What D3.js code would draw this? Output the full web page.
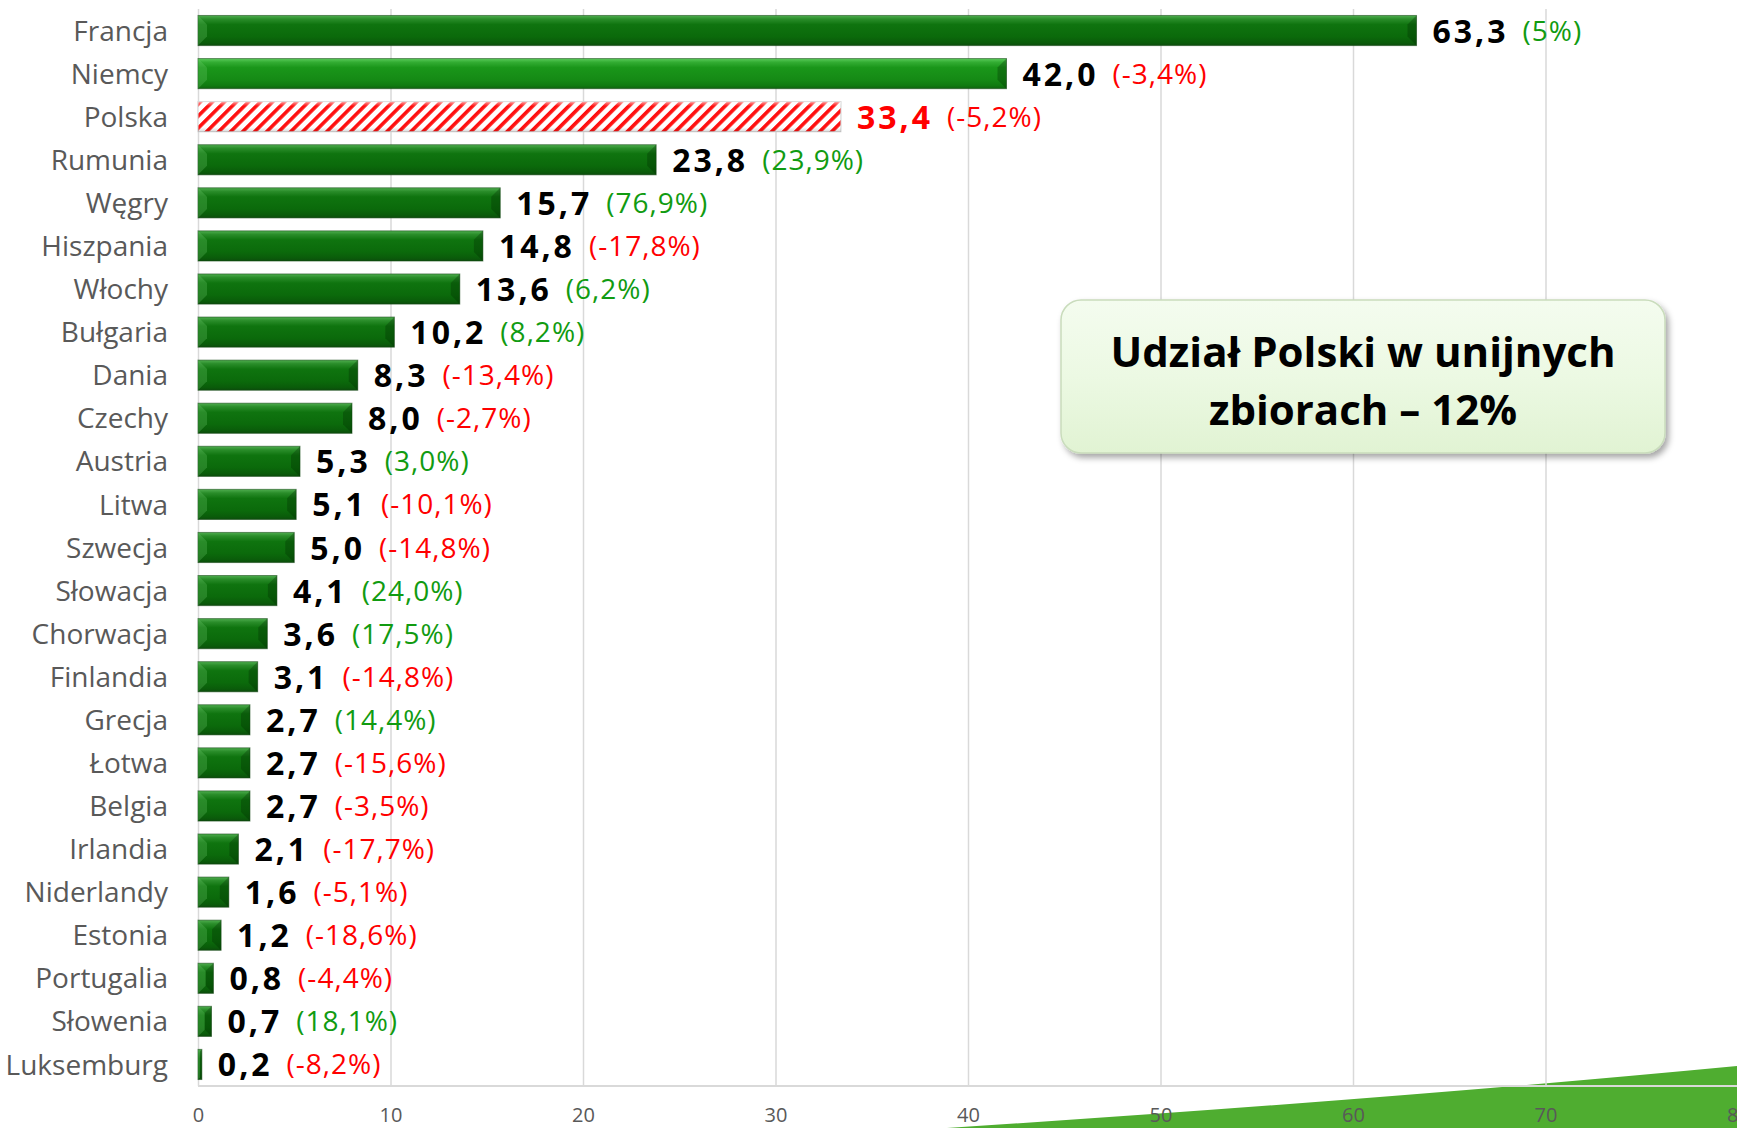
<!DOCTYPE html>
<html>
<head>
<meta charset="utf-8">
<script src="https://cdn.jsdelivr.net/npm/d3@7"></script>
<style>
  body { margin: 0; background: #fff; }
  svg { display: block; }
</style>
</head>
<body>
<svg id="chart"></svg>
<script>
var width = 1737;
var height = 1128;

// Data

var countries = ['Francja', 'Niemcy', 'Polska', 'Rumunia', 'Węgry', 'Hiszpania', 'Włochy', 'Bułgaria',
                 'Dania', 'Czechy', 'Austria', 'Litwa', 'Szwecja', 'Słowacja', 'Chorwacja', 'Finlandia',
                 'Grecja', 'Łotwa', 'Belgia', 'Irlandia', 'Niderlandy', 'Estonia', 'Portugalia', 'Słowenia', 'Luksemburg'];

var harvest = [63.3, 42.0, 33.4, 23.8, 15.7, 14.8, 13.6, 10.2, 8.3, 8.0, 5.3, 5.1, 5.0, 4.1, 3.6, 3.1,
               2.7, 2.7, 2.7, 2.1, 1.6, 1.2, 0.8, 0.7, 0.2];

var changeLabels = ['(5%)', '(-3,4%)', '(-5,2%)', '(23,9%)', '(76,9%)', '(-17,8%)', '(6,2%)', '(8,2%)',
                    '(-13,4%)', '(-2,7%)', '(3,0%)', '(-10,1%)', '(-14,8%)', '(24,0%)', '(17,5%)', '(-14,8%)',
                    '(14,4%)', '(-15,6%)', '(-3,5%)', '(-17,7%)', '(-5,1%)', '(-18,6%)', '(-4,4%)', '(18,1%)', '(-8,2%)'];

var xTicks = [0, 10, 20, 30, 40, 50, 60, 70, 80];

var boxLines = ['Udział Polski w unijnych', 'zbiorach – 12%'];

var rows = countries.map((c, i) => ({ country: c, value: harvest[i], change: changeLabels[i] }));

// Layout

var plotLeft = 198, plotRight = 1738, plotTop = 9, plotBottom = 1086;

var svg = d3.select('#chart')
    .attr('width', width)
    .attr('height', height)
    .style('font-family', '"Open Sans", sans-serif');

var xScale = d3.scaleLinear()
                .domain([0, 80])
                .range([plotLeft, plotRight]);

var yScale = d3.scaleBand()
                .domain(countries)
                .range([plotTop, plotBottom])
                .paddingInner(0.3)
                .paddingOuter(0.15);

var fmt = d => d3.format('.1f')(d).replace('.', ',');

// Defs: gradients + stripe pattern

var defs = svg.append('defs');

function vGrad(id, stops) {
    var g = defs.append('linearGradient').attr('id', id)
        .attr('x1', 0).attr('y1', 0).attr('x2', 0).attr('y2', 1);
    stops.forEach(s => g.append('stop').attr('offset', s[0]).attr('stop-color', s[1]));
}

vGrad('barDark', [[0, '#4fae4f'], [0.12, '#2a8d2a'], [0.3, '#0f740f'], [0.7, '#0b6a0b'], [0.9, '#0a5c0a'], [1, '#0c4d0c']]);
vGrad('barLight', [[0, '#5ccc5c'], [0.12, '#33ad33'], [0.3, '#1a961a'], [0.7, '#158a15'], [0.9, '#107a10'], [1, '#0f630f']]);
vGrad('boxFill', [[0, '#f4fcef'], [0.5, '#ecf9e3'], [1, '#e1f3d3']]);
vGrad('polskaShade', [[0, 'rgba(255,255,255,0.6)'], [0.15, 'rgba(255,255,255,0)'], [0.85, 'rgba(0,0,0,0)'], [1, 'rgba(0,0,0,0.15)']]);

var stripes = defs.append('pattern')
    .attr('id', 'stripes')
    .attr('patternUnits', 'userSpaceOnUse')
    .attr('width', 8.5)
    .attr('height', 8.5)
    .attr('patternTransform', 'rotate(45)');
stripes.append('rect').attr('width', 8.5).attr('height', 8.5).attr('fill', '#fff');
stripes.append('rect').attr('width', 3.6).attr('height', 8.5).attr('fill', '#ff1010');

var shadow = defs.append('filter').attr('id', 'shadow')
    .attr('x', '-10%').attr('y', '-20%').attr('width', '125%').attr('height', '150%');
shadow.append('feDropShadow')
    .attr('dx', 3).attr('dy', 4).attr('stdDeviation', 3)
    .attr('flood-color', '#000').attr('flood-opacity', 0.35);

// Decorative green wedge at the bottom right

svg.append('path')
    .attr('d', 'M947,1128 Q1380,1100 1737,1066 L1737,1128 Z')
    .attr('fill', '#4fad30');

// Grid

svg.append('g')
    .attr('transform', 'translate(0,' + plotBottom + ')')
    .call(d3.axisBottom(xScale).tickValues(xTicks).tickSize(-(plotBottom - plotTop)).tickFormat(''))
    .call(g => g.select('.domain').remove())
    .selectAll('line')
        .attr('stroke', '#d9d9d9')
        .attr('stroke-width', 1.5);

svg.append('line')
    .attr('x1', plotLeft).attr('x2', width)
    .attr('y1', plotBottom).attr('y2', plotBottom)
    .attr('stroke', '#d9d9d9')
    .attr('stroke-width', 2);

// Tick labels

svg.append('g')
    .attr('transform', 'translate(0,' + plotBottom + ')')
    .call(d3.axisBottom(xScale).tickValues(xTicks).tickSize(0).tickPadding(22))
    .call(g => g.select('.domain').remove())
    .selectAll('text')
        .attr('fill', '#595959')
        .style('font-family', '"Open Sans", sans-serif')
        .style('font-size', '20px');

// Category labels

svg.append('g')
    .selectAll('text')
    .data(rows)
    .enter()
    .append('text')
        .attr('x', 168)
        .attr('y', d => yScale(d.country) + yScale.bandwidth() / 2)
        .attr('dy', '0.36em')
        .attr('text-anchor', 'end')
        .attr('fill', '#595959')
        .style('font-size', '28px')
        .text(d => d.country);

// Bars

var bh = yScale.bandwidth();

var bars = svg.append('g')
    .selectAll('g')
    .data(rows)
    .enter()
    .append('g')
        .attr('transform', d => 'translate(' + xScale(0) + ',' + yScale(d.country) + ')');

bars.append('rect')
    .attr('width', d => xScale(d.value) - xScale(0))
    .attr('height', bh)
    .attr('fill', d => d.country === 'Polska' ? 'url(#stripes)' : (d.country === 'Niemcy' ? 'url(#barLight)' : 'url(#barDark)'))
    .attr('stroke', d => d.country === 'Polska' ? '#d0d0d0' : 'rgba(20,70,20,0.55)')
    .attr('stroke-width', 1);

// Bevel ends on the green bars
bars.filter(d => d.country !== 'Polska')
    .append('path')
    .attr('d', d => {
        var w = xScale(d.value) - xScale(0), b = Math.min(9, w / 2);
        return 'M0,0 L' + b + ',' + b + ' L' + b + ',' + (bh - b) + ' L0,' + bh + ' Z';
    })
    .attr('fill', 'rgba(120,210,120,0.25)');

bars.filter(d => d.country !== 'Polska')
    .append('path')
    .attr('d', d => {
        var w = xScale(d.value) - xScale(0), b = Math.min(9, w / 2);
        return 'M' + w + ',0 L' + (w - b) + ',' + b + ' L' + (w - b) + ',' + (bh - b) + ' L' + w + ',' + bh + ' Z';
    })
    .attr('fill', 'rgba(0,40,0,0.3)');

bars.filter(d => d.country === 'Polska')
    .append('rect')
    .attr('width', d => xScale(d.value) - xScale(0))
    .attr('height', bh)
    .attr('fill', 'url(#polskaShade)');

// Value labels + change labels

var labels = svg.append('g')
    .selectAll('text')
    .data(rows)
    .enter()
    .append('text')
        .attr('x', d => xScale(d.value) + 16)
        .attr('y', d => yScale(d.country) + bh / 2)
        .attr('dy', 12);

labels.append('tspan')
    .attr('font-weight', 'bold')
    .style('font-size', '32px')
    .style('letter-spacing', '3px')
    .attr('fill', d => d.country === 'Polska' ? '#ff0000' : '#000')
    .text(d => fmt(d.value));

labels.append('tspan')
    .attr('dx', 14)
    .attr('dy', -2)
    .style('font-size', '28px')
    .style('letter-spacing', '1px')
    .attr('fill', d => d.change.indexOf('-') >= 0 ? '#ff0000' : '#119b11')
    .text(d => d.change);

// Annotation box

var box = svg.append('g');

box.append('rect')
    .attr('x', 1061)
    .attr('y', 300)
    .attr('width', 604)
    .attr('height', 153)
    .attr('rx', 20)
    .attr('fill', 'url(#boxFill)')
    .attr('stroke', '#c9dcbc')
    .attr('stroke-width', 1.5)
    .attr('filter', 'url(#shadow)');

box.selectAll('text')
    .data(boxLines)
    .enter()
    .append('text')
        .attr('x', 1363)
        .attr('y', (d, i) => 367 + i * 58)
        .attr('text-anchor', 'middle')
        .attr('font-weight', 'bold')
        .attr('fill', '#000')
        .style('font-size', '42px')
        .text(d => d);
</script>
</body>
</html>
